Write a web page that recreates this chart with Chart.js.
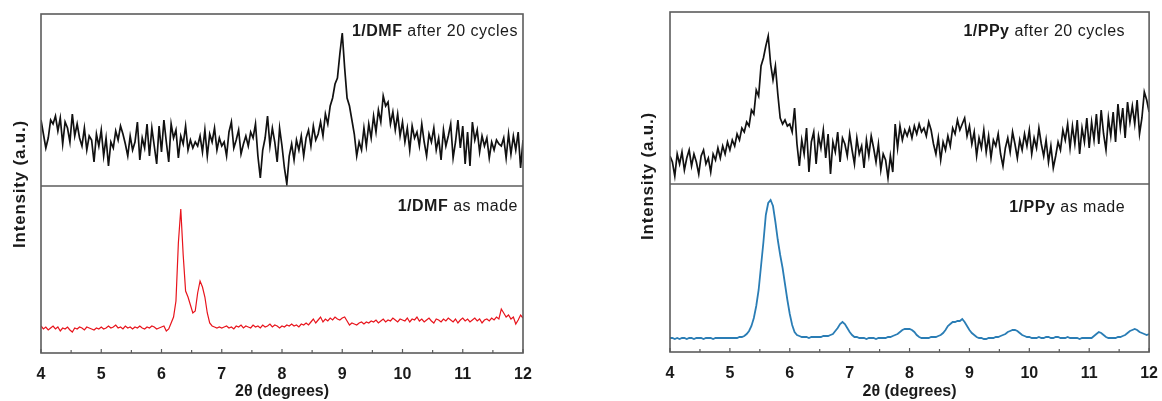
<!DOCTYPE html>
<html>
<head>
<meta charset="utf-8">
<script src="https://cdn.jsdelivr.net/npm/chart.js@4.4.1/dist/chart.umd.min.js"></script>
<style>
  body { margin: 0; background: #fff; overflow: hidden; }
  canvas { position: absolute; top: 0; }
  #left { left: 0; }
  #right { left: 600px; }
</style>
</head>
<body>
<canvas id="left" width="560" height="401"></canvas>
<canvas id="right" width="570" height="401"></canvas>
<script>
// scan grid: 2theta from 4 to 12 deg, 0.04 deg step (201 points per pattern)
const scanStart = 4;
const scanStep = 0.04;
const xTicks = [4, 5, 6, 7, 8, 9, 10, 11, 12];

// 1/DMF after 20 cycles (arb. units)
const dmfCycled = [
  66, 52, 38, 48, 66, 62, 70, 55, 68, 42, 64, 58, 44, 72, 50, 62, 48, 40, 58, 36, 50, 46, 24, 52, 40,
  56, 30, 48, 20, 44, 38, 55, 46, 60, 52, 42, 30, 50, 36, 44, 64, 26, 48, 38, 62, 30, 58, 40, 22, 60,
  34, 66, 44, 24, 62, 48, 56, 28, 50, 42, 60, 36, 46, 38, 44, 40, 50, 34, 56, 30, 52, 44, 58, 36, 48,
  40, 44, 30, 54, 64, 38, 46, 56, 32, 42, 50, 40, 54, 48, 62, 30, 8, 36, 48, 70, 40, 58, 44, 24, 58,
  40, 18, 2, 30, 42, 26, 46, 36, 50, 30, 48, 56, 40, 60, 46, 52, 64, 50, 72, 62, 80, 88, 102, 108, 132,
  153, 118, 88, 80, 66, 52, 30, 44, 36, 58, 40, 62, 48, 70, 54, 76, 64, 90, 80, 84, 62, 74, 56, 72, 50,
  64, 44, 58, 36, 60, 48, 54, 40, 62, 44, 30, 52, 44, 58, 36, 48, 26, 56, 40, 50, 62, 28, 44, 66, 38,
  60, 22, 54, 20, 64, 46, 56, 34, 50, 40, 48, 28, 44, 36, 46, 42, 40, 48, 28, 52, 32, 50, 36, 54, 18,
  46
];

// 1/DMF as made
const dmfMade = [
  27, 24, 26, 23, 25, 27, 24, 26, 22, 25, 24, 26, 23, 21, 25, 24, 26, 25, 23, 26, 25, 24, 23, 25, 24,
  26, 24, 25, 27, 25, 26, 28, 25, 26, 24, 27, 25, 26, 24, 26, 25, 27, 25, 24, 26, 25, 27, 26, 24, 25,
  26, 27, 22, 24, 30, 36, 52, 110, 144, 98, 62, 56, 48, 40, 42, 60, 72, 66, 56, 40, 30, 27, 26, 25, 26,
  25, 26, 27, 25, 26, 24, 27, 26, 28, 25, 27, 26, 25, 28, 26, 27, 25, 28, 26, 27, 29, 26, 28, 27, 25,
  27, 26, 28, 27, 29, 27, 28, 26, 29, 28, 30, 28, 31, 34, 30, 33, 36, 31, 34, 32, 35, 33, 36, 34, 33,
  35, 36, 32, 28, 30, 29, 28, 30, 31, 29, 31, 30, 32, 31, 33, 30, 32, 34, 31, 33, 32, 35, 33, 31, 34,
  33, 32, 35, 31, 34, 33, 36, 32, 34, 31, 33, 35, 32, 30, 34, 33, 31, 34, 32, 35, 33, 31, 34, 30, 33,
  35, 32, 34, 31, 33, 35, 32, 34, 30, 33, 34, 32, 35, 33, 36, 34, 44, 40, 36, 38, 34, 36, 29, 33, 38,
  35
];

// 1/PPy after 20 cycles
const ppyCycled = [
  28, 22, 8, 30, 20, 32, 14, 26, 34, 18, 30, 22, 10, 28, 34, 20, 26, 12, 30, 24, 36, 26, 38, 30, 42,
  34, 44, 38, 50, 44, 56, 52, 62, 58, 74, 70, 94, 88, 118, 126, 138, 148, 120, 104, 118, 90, 66, 60, 64, 58,
  60, 52, 76, 40, 18, 44, 30, 56, 12, 42, 52, 20, 48, 36, 54, 26, 50, 10, 42, 32, 52, 22, 46, 40, 28,
  50, 34, 20, 46, 30, 38, 16, 44, 28, 48, 36, 22, 40, 14, 30, 24, 6, 28, 12, 60, 36, 58, 44, 54, 48,
  56, 46, 58, 50, 60, 52, 56, 48, 62, 54, 40, 30, 46, 24, 42, 34, 48, 38, 56, 50, 64, 54, 60, 66, 48,
  58, 40, 52, 28, 46, 36, 54, 32, 48, 26, 44, 38, 50, 30, 18, 36, 46, 32, 52, 40, 26, 44, 34, 50, 38,
  54, 30, 46, 36, 56, 40, 28, 44, 22, 38, 16, 28, 42, 34, 54, 44, 60, 36, 58, 40, 64, 30, 56, 42, 66,
  36, 62, 44, 70, 40, 74, 50, 34, 66, 48, 72, 42, 80, 56, 76, 46, 82, 62, 78, 60, 84, 50, 66, 92, 84,
  72
];

// 1/PPy as made
const ppyMade = [
  14, 14, 13, 14, 13, 14, 14, 13, 14, 14, 13, 14, 14, 14, 13, 14, 14, 14, 13, 14, 14, 14, 14, 14, 14,
  14, 14, 14, 14, 15, 15, 16, 18, 21, 26, 34, 46, 62, 86, 110, 137, 149, 152, 146, 130, 112, 97, 84, 68, 52,
  38, 27, 20, 17, 16, 15, 15, 15, 14, 15, 15, 15, 15, 15, 16, 16, 16, 17, 18, 21, 24, 28, 30, 28, 24,
  20, 17, 15, 15, 14, 14, 14, 13, 14, 14, 14, 13, 14, 14, 14, 14, 15, 15, 16, 17, 18, 20, 22, 23, 23,
  23, 22, 20, 17, 15, 14, 14, 14, 14, 15, 15, 15, 16, 17, 19, 22, 26, 28, 30, 30, 31, 31, 33, 30, 26,
  22, 19, 17, 15, 14, 14, 13, 13, 14, 14, 14, 15, 15, 16, 17, 18, 20, 21, 22, 22, 21, 19, 17, 16, 15,
  15, 14, 14, 14, 15, 14, 14, 15, 15, 14, 14, 15, 15, 14, 14, 14, 15, 14, 14, 14, 14, 13, 14, 14, 14,
  14, 14, 16, 18, 20, 19, 17, 15, 14, 14, 14, 14, 15, 15, 16, 17, 19, 21, 22, 23, 22, 20, 19, 18, 17,
  18
];

const FONT = '"Liberation Sans", Arial, sans-serif';

function toPoints(values) {
  return values.map((v, i) => ({ x: +(scanStart + i * scanStep).toFixed(2), y: v }));
}

// box, divider, inner ticks, y title and the sample labels
const framePlugin = {
  id: 'frame',
  afterDatasetsDraw(chart, args, opts) {
    const { ctx, chartArea: a, scales } = chart;
    ctx.save();
    ctx.strokeStyle = '#5c5c5c';
    ctx.lineWidth = 1.6;
    ctx.strokeRect(a.left, a.top, a.width, a.height);
    const mid = scales.yTop.bottom;
    ctx.beginPath();
    ctx.moveTo(a.left, mid);
    ctx.lineTo(a.right, mid);
    ctx.stroke();

    // ticks pointing into the plot, half-degree minor ones
    ctx.lineWidth = 1.2;
    for (let v = 4; v <= 12; v += 0.5) {
      const px = scales.x.getPixelForValue(v);
      const len = Number.isInteger(v) ? 4 : 3;
      ctx.beginPath();
      ctx.moveTo(px, a.bottom);
      ctx.lineTo(px, a.bottom - len);
      ctx.stroke();
    }

    ctx.fillStyle = '#1a1a1a';
    ctx.save();
    ctx.translate(a.left - opts.yTitleDx, opts.yTitleY);
    ctx.rotate(-Math.PI / 2);
    ctx.font = 'bold 17px ' + FONT;
    ctx.letterSpacing = '0.8px';
    ctx.textAlign = 'center';
    ctx.textBaseline = 'middle';
    ctx.fillText('Intensity (a.u.)', 0, 0);
    ctx.restore();

    ctx.textBaseline = 'middle';
    ctx.textAlign = 'left';
    ctx.letterSpacing = '0.5px';
    opts.labels.forEach(l => {
      const axis = scales[l.axis];
      const right = a.right - opts.labelDx;
      const y = axis.top + l.dy;
      ctx.font = '16px ' + FONT;
      const restW = ctx.measureText(l.rest).width;
      ctx.fillText(l.rest, right - restW, y);
      ctx.font = 'bold 16px ' + FONT;
      const boldW = ctx.measureText(l.bold).width;
      ctx.fillText(l.bold, right - restW - boldW, y);
    });
    ctx.restore();
  }
};

function makePanel(id, p) {
  return new Chart(document.getElementById(id), {
    type: 'line',
    data: {
      datasets: [
        { data: toPoints(p.top), yAxisID: 'yTop', borderColor: p.topColor, borderWidth: p.topWidth, pointRadius: 0, tension: 0 },
        { data: toPoints(p.bottom), yAxisID: 'yBot', borderColor: p.botColor, borderWidth: p.botWidth, pointRadius: 0, tension: 0 }
      ]
    },
    options: {
      responsive: false,
      animation: false,
      devicePixelRatio: 1,
      layout: { padding: p.padding, autoPadding: false },
      plugins: {
        legend: { display: false },
        tooltip: { enabled: false },
        frame: p.frame
      },
      scales: {
        x: {
          type: 'linear',
          min: 4,
          max: 12,
          afterBuildTicks: s => { s.ticks = xTicks.map(v => ({ value: v })); },
          grid: { display: false, drawTicks: false },
          border: { display: false },
          ticks: { padding: 12, color: '#1a1a1a', font: { family: FONT, size: 16, weight: 'bold' } },
          title: {
            display: true,
            text: '2θ (degrees)',
            color: '#1a1a1a',
            font: { family: FONT, size: 16, weight: 'bold' },
            padding: { top: 0, bottom: 0 }
          },
          afterFit: s => { s.height = p.xHeight; }
        },
        yBot: {
          stack: 'panel',
          stackWeight: p.botWeight,
          min: 0,
          max: p.botWeight,
          ticks: { display: false },
          grid: { display: false, drawTicks: false },
          border: { display: false },
          afterFit: s => { s.width = 0; }
        },
        yTop: {
          stack: 'panel',
          stackWeight: p.topWeight,
          min: 0,
          max: p.topWeight,
          ticks: { display: false },
          grid: { display: false, drawTicks: false },
          border: { display: false },
          afterFit: s => { s.width = 0; }
        }
      }
    },
    plugins: [framePlugin]
  });
}

makePanel('left', {
  top: dmfCycled, bottom: dmfMade,
  topColor: '#111111', topWidth: 1.7,
  botColor: '#e8141c', botWidth: 1.2,
  topWeight: 172, botWeight: 167,
  padding: { left: 41, right: 37, top: 14, bottom: 0 },
  xHeight: 48,
  frame: {
    yTitleDx: 21, yTitleY: 184, labelDx: 5,
    labels: [
      { axis: 'yTop', dy: 18, bold: '1/DMF', rest: ' after 20 cycles' },
      { axis: 'yBot', dy: 21, bold: '1/DMF', rest: ' as made' }
    ]
  }
});

// the last tick label reserves 21px on the right, so the canvas runs a little past the window
makePanel('right', {
  top: ppyCycled, bottom: ppyMade,
  topColor: '#111111', topWidth: 1.7,
  botColor: '#2a7db5', botWidth: 1.8,
  topWeight: 172, botWeight: 168,
  padding: { left: 70, right: 0, top: 12, bottom: 0 },
  xHeight: 49,
  frame: {
    yTitleDx: 22, yTitleY: 176, labelDx: 24,
    labels: [
      { axis: 'yTop', dy: 20, bold: '1/PPy', rest: ' after 20 cycles' },
      { axis: 'yBot', dy: 24, bold: '1/PPy', rest: ' as made' }
    ]
  }
});
</script>
</body>
</html>
